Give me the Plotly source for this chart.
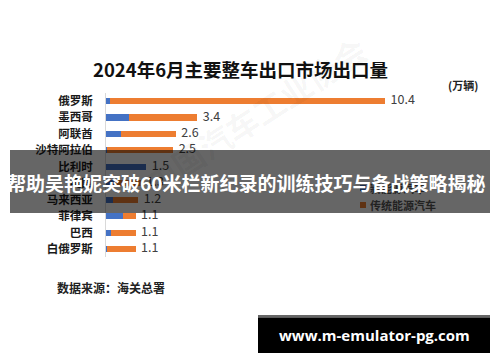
import plotly.graph_objects as go

# ---------------- data ----------------
countries = ["俄罗斯", "墨西哥", "阿联酋", "沙特阿拉伯", "比利时", "英国",
             "马来西亚", "菲律宾", "巴西", "白俄罗斯"]
totals = [10.4, 3.4, 2.6, 2.5, 1.5, 1.3, 1.2, 1.1, 1.1, 1.1]
total_labels = ["10.4", "3.4", "2.6", "2.5", "1.5", "1.3", "1.2", "1.1", "1.1", "1.1"]
new_energy = [0.15, 0.85, 0.55, 0.05, 1.5, 0.3, 0.25, 0.63, 0.17, 0.05]
traditional = [round(t - n, 2) for t, n in zip(totals, new_energy)]
series_names = ["新能源汽车", "传统能源汽车"]

title_text = "2024年6月主要整车出口市场出口量"
unit_text = "(万辆)"
source_text = "数据来源：海关总署"
banner_text = "帮助吴艳妮突破60米栏新纪录的训练技巧与备战策略揭秘"
url_text = "www.m-emulator-pg.com"
watermark_text = "中国汽车工业协会"

W, H = 500, 362
BLUE = "#4472c4"
ORANGE = "#ed7d31"
CJK = "Noto Sans CJK SC"


def px(x):
    return x / W


def py(y):
    return 1 - y / H


fig = go.Figure()
fig.add_trace(go.Bar(y=countries, x=new_energy, orientation="h", name=series_names[0],
                     marker=dict(color=BLUE, line=dict(width=0))))
fig.add_trace(go.Bar(y=countries, x=traditional, orientation="h", name=series_names[1],
                     marker=dict(color=ORANGE, line=dict(width=0))))
fig.add_trace(go.Scatter(y=countries, x=totals, mode="text",
                         text=["  " + t for t in total_labels],
                         textposition="middle right",
                         textfont=dict(size=12.5, color="#404040", family=CJK),
                         showlegend=False, hoverinfo="skip"))


def ann(x, y, text, size, color, xanchor="center", family=CJK, angle=0):
    return dict(x=px(x), y=py(y), xref="paper", yref="paper", text=text, showarrow=False,
                font=dict(size=size, color=color, family=family), textangle=angle,
                xanchor=xanchor, yanchor="middle")


annotations = [
    ann(255, 115, "<b>" + watermark_text + "</b>", 32, "rgba(0,0,0,0.045)", angle=-33),
    ann(240, 69, "<b>" + title_text + "</b>", 18.5, "#111111"),
    ann(463, 85, "<b>" + unit_text + "</b>", 11, "#222222"),
    ann(55, 287, "<b>" + source_text + "</b>", 12, "#222222", xanchor="left"),
    ann(368, 188, "<b>" + series_names[0] + "</b>", 11, "#222222", xanchor="left"),
    ann(368, 205, "<b>" + series_names[1] + "</b>", 11, "#222222", xanchor="left"),
    ann(246, 182, "<b>" + banner_text + "</b>", 19, "white"),
    ann(374, 335, "<b>" + url_text + "</b>", 15, "white", family="Open Sans"),
]

shapes = [
    dict(type="rect", xref="paper", yref="paper", x0=px(360), x1=px(366), y0=py(191), y1=py(185),
         fillcolor=BLUE, line=dict(width=0), layer="above"),
    dict(type="rect", xref="paper", yref="paper", x0=px(360), x1=px(366), y0=py(208), y1=py(202),
         fillcolor=ORANGE, line=dict(width=0), layer="above"),
    dict(type="rect", xref="paper", yref="paper", x0=px(10), x1=px(490), y0=py(213), y1=py(150),
         fillcolor="rgba(0,0,0,0.6)", line=dict(width=0), layer="above"),
    dict(type="rect", xref="paper", yref="paper", x0=px(258), x1=px(490), y0=py(317.5), y1=py(315),
         fillcolor="#666666", line=dict(width=0), layer="above"),
    dict(type="rect", xref="paper", yref="paper", x0=px(258), x1=px(490), y0=py(353), y1=py(317.5),
         fillcolor="#000000", line=dict(width=0), layer="above"),
]

fig.update_layout(
    width=W, height=H, autosize=False,
    margin=dict(l=0, r=0, t=0, b=0, pad=0),
    paper_bgcolor="white", plot_bgcolor="white",
    barmode="stack", bargap=0.63,
    showlegend=False, hovermode=False,
    annotations=annotations, shapes=shapes,
    xaxis=dict(domain=[px(106), px(106 + 14 * 26.83)], range=[0, 14],
               showgrid=False, zeroline=False, showticklabels=False, showline=False),
    yaxis=dict(domain=[py(257.2), py(92.8)], type="category", autorange="reversed",
               showgrid=False, zeroline=False, showline=True, linecolor="#d9d9d9", linewidth=1,
               ticks="", tickmode="array", tickvals=countries,
               ticktext=["<b>" + c + "</b>" for c in countries],
               ticklabelstandoff=10,
               tickfont=dict(size=11.5, color="#1a1a1a", family=CJK)),
)

fig.write_html("out.html")
